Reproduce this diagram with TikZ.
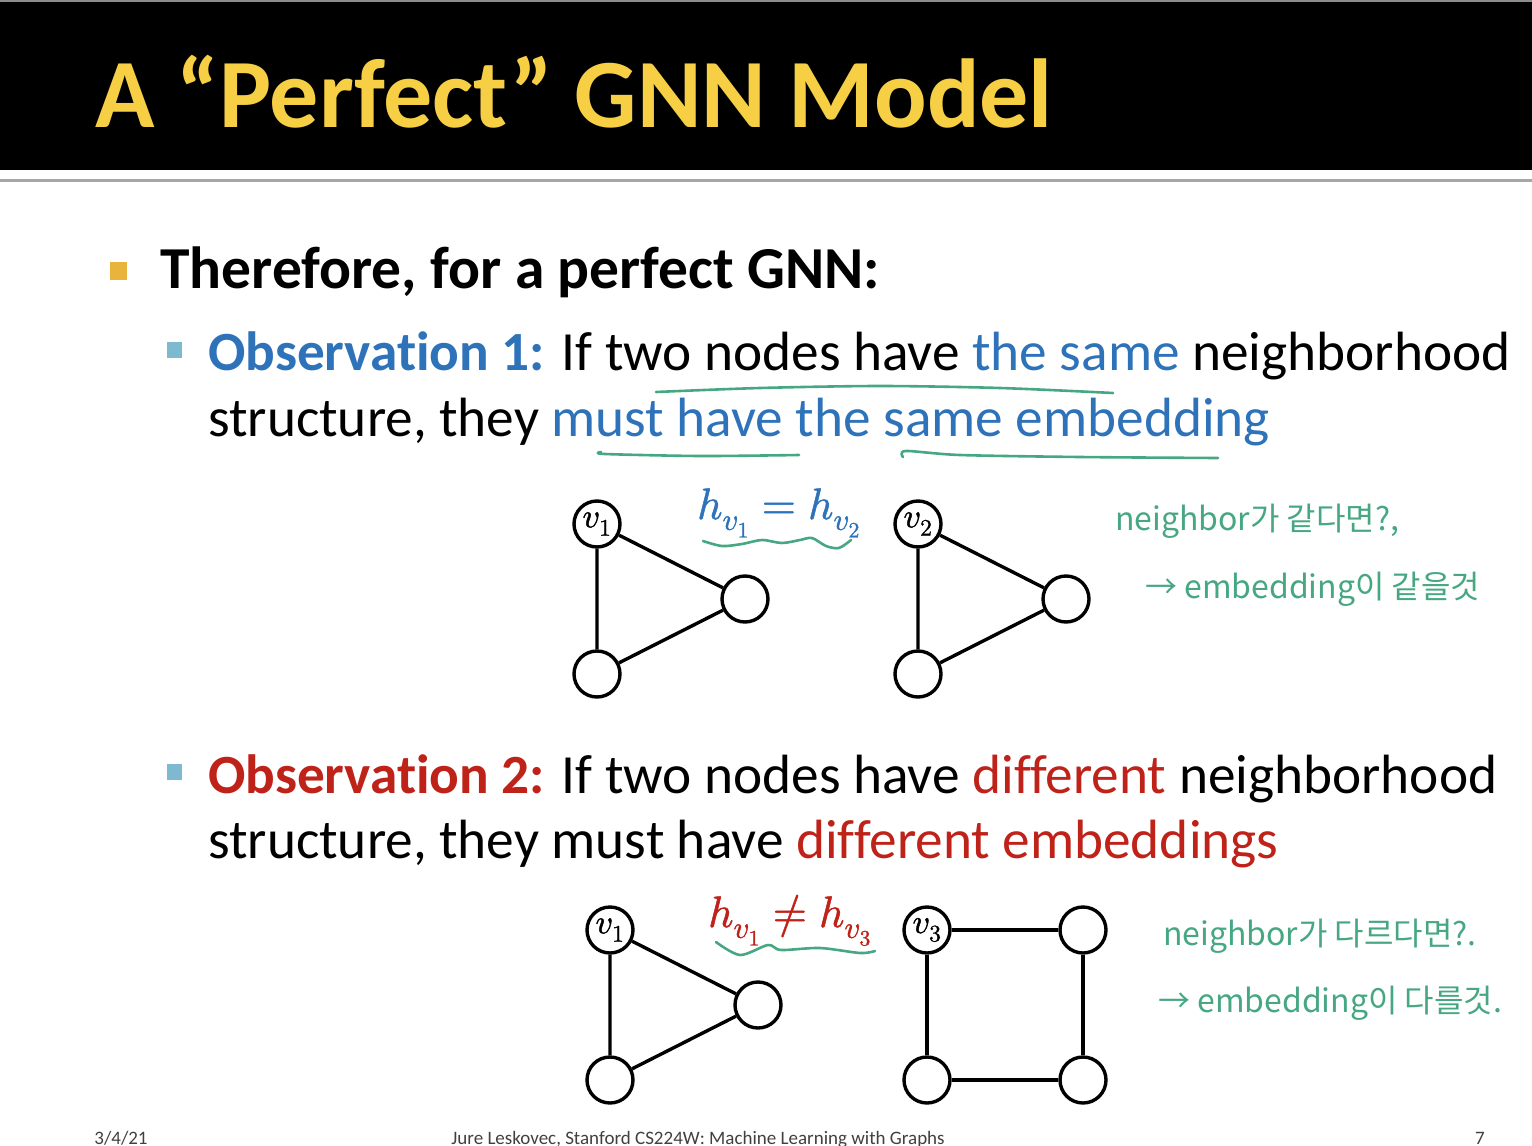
\documentclass[tikz,border=0pt]{standalone}
\usepackage{fontspec}
\usepackage{unicode-math}
\setmainfont{Carlito}[Ligatures=NoCommon]
\setmathfont{Latin Modern Math}[FakeBold=1.2]
\newfontfamily\hangul{Noto Sans CJK KR}
\usetikzlibrary{calc,positioning}
\definecolor{TitleClr}{HTML}{F6CF45}
\definecolor{ObsBlue}{HTML}{2E72BA}
\definecolor{ObsRed}{HTML}{BE2219}
\definecolor{PenClr}{HTML}{47A783}
\definecolor{BulletOne}{HTML}{E9B43C}
\definecolor{BulletTwo}{HTML}{7DBACF}
\definecolor{FootClr}{HTML}{404040}

\begin{document}
\begin{tikzpicture}[x=1pt,y=-1pt,
  gnode/.style={circle,draw,line width=3.4pt,minimum size=46pt,inner sep=0pt,
    font=\fontsize{34}{36}\selectfont},
  gedge/.style={line width=3.4pt},
  pen/.style={PenClr,line width=2.6pt,line cap=round,line join=round},
  body/.style={anchor=base west,inner sep=0pt,font=\fontsize{55.3}{60}\selectfont},
  note/.style={anchor=base west,inner sep=0pt,text=PenClr,
    font=\hangul\fontsize{32}{34}\selectfont},
  foot/.style={anchor=base,inner sep=0pt,text=FootClr,font=\fontsize{19}{20}\selectfont}]
\useasboundingbox (0,0) rectangle (1532,1146);

% title band
\fill[black] (0,0) rectangle (1532,170);
\draw[black!45,line width=1.5pt] (0,0.75) -- (1532,0.75);
\draw[black!35,line width=3pt] (0,180) -- (1532,180);
\node[anchor=base west,inner sep=0pt,text=TitleClr,font=\bfseries\fontsize{98}{100}\selectfont]
  (title) at (95,127) {A “Perfect” GNN Model};

% bullets
\fill[BulletOne] (110,262) rectangle (127,280);
\fill[BulletTwo] (167,342) rectangle (182,358);
\fill[BulletTwo] (167,764) rectangle (182,780);

\node[body,font=\bfseries\fontsize{59.5}{62}\selectfont] (lead) at (160,288)
  {Therefore, for a perfect GNN:};
\node[body] (obsa) at (208,370) {\textcolor{ObsBlue}{\bfseries Observation 1:} If two
  nodes have \textcolor{ObsBlue}{the same} neighborhood};
\node[body] (obsab) at (208,436) {structure, they
  \textcolor{ObsBlue}{must have the same embedding}};
\node[body] (obsb) at (208,793) {\textcolor{ObsRed}{\bfseries Observation 2:} If two
  nodes have \textcolor{ObsRed}{different} neighborhood};
\node[body] (obsbb) at (208,858) {structure, they must have
  \textcolor{ObsRed}{different embeddings}};

% graphs
\node[gnode] (a1) at (597,524) {$v_1$};
\node[gnode] (a2) at (745,599) {};
\node[gnode] (a3) at (597,674) {};
\node[gnode] (b1) at (918,524) {$v_2$};
\node[gnode] (b2) at (1066,599) {};
\node[gnode] (b3) at (918,674) {};
\node[gnode] (c1) at (610,930) {$v_1$};
\node[gnode] (c2) at (758,1005) {};
\node[gnode] (c3) at (610,1080) {};
\node[gnode] (d1) at (927,930) {$v_3$};
\node[gnode] (d2) at (1083,930) {};
\node[gnode] (d3) at (1083,1080) {};
\node[gnode] (d4) at (927,1080) {};
\foreach \g in {a,b,c}
  \draw[gedge] (\g1) -- (\g2) (\g2) -- (\g3) (\g3) -- (\g1);
\draw[gedge] (d1) -- (d2) (d2) -- (d3) (d3) -- (d4) (d4) -- (d1);

% embeddings
\node[anchor=base west,inner sep=0pt,text=ObsBlue,font=\fontsize{44}{46}\selectfont]
  (eqa) at (697,519) {$h_{v_1} = h_{v_2}$};
\node[anchor=base west,inner sep=0pt,text=ObsRed,font=\fontsize{44}{46}\selectfont]
  (eqb) at (708,927) {$h_{v_1} \neq h_{v_3}$};

% pen marks
\draw[pen] plot[smooth] coordinates {(656,392) (760,388) (880,386) (1000,388) (1113,393)};
\draw[pen] plot[smooth] coordinates {(601,452) (605,454) (700,456) (799,455)};
\draw[pen] plot[smooth] coordinates {(903,457) (906,451) (960,455) (1080,457) (1218,458)};
\draw[pen] plot[smooth] coordinates {(703,541) (722,546) (742,544) (762,540) (782,543)
  (800,540) (812,538) (826,546) (839,548) (851,540)};
\draw[pen] plot[smooth] coordinates {(716,942) (740,955) (768,945) (781,950) (820,948)
  (860,953) (875,951)};

\node[note] (noteaa) at (1115,530) {neighbor가 같다면?,};
\node[note] (noteab) at (1145,598) {→ embedding이 같을것};
\node[note] (noteba) at (1163,945) {neighbor가 다르다면?.};
\node[note] (notebb) at (1158,1012) {→ embedding이 다를것.};

% footer
\node[foot] (date) at (121,1144) {3/4/21};
\node[foot] (credit) at (698,1144) {Jure Leskovec, Stanford CS224W: Machine Learning with Graphs};
\node[foot] (page) at (1480,1144) {7};
\end{tikzpicture}
\end{document}
